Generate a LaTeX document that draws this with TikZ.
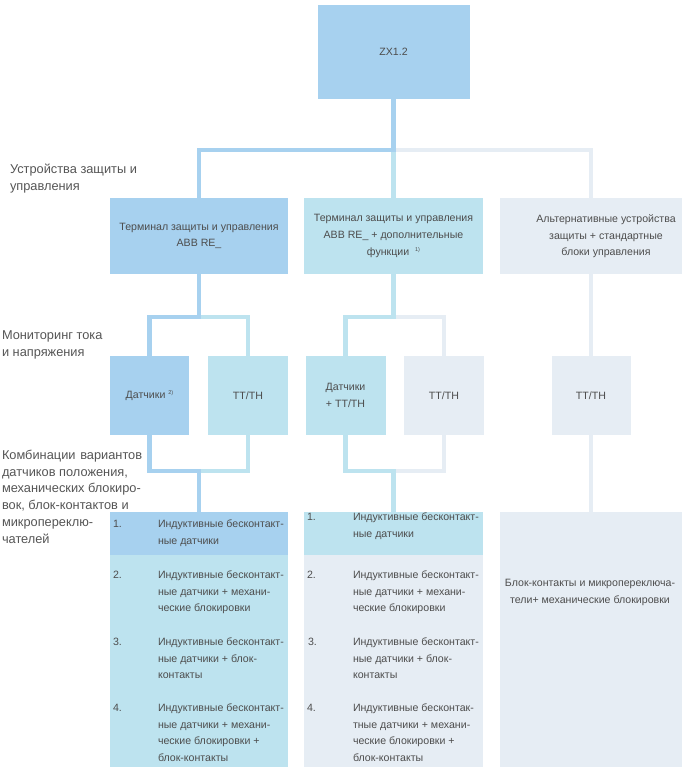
\documentclass[tikz,border=0pt]{standalone}
\usepackage{fontspec}
\setmainfont{Liberation Sans}
\definecolor{cblue}{HTML}{A7D1EF}
\definecolor{ccyan}{HTML}{BDE3EF}
\definecolor{cgrey}{HTML}{E6EDF4}
\definecolor{ctext}{HTML}{4D4D4D}
\definecolor{clabel}{HTML}{555555}
\newcommand\bxfont{\fontsize{10.6}{16.6}\selectfont}
\newcommand\lblfont{\fontsize{12.8}{16.8}\selectfont}
\newcommand\supnote[1]{\raisebox{3.5pt}{\fontsize{5.5}{6}\selectfont #1}}
\tikzset{
  bx/.style={rectangle, inner sep=0pt, outer sep=0pt, text=ctext, font=\bxfont, align=center},
  conn/.style={line width=4.8pt},
  itm/.style={anchor=north west, inner sep=0pt, outer sep=0pt, text=ctext, font=\bxfont, align=left},
  lbl/.style={anchor=north west, inner sep=0pt, outer sep=0pt, text=clabel, font=\lblfont, align=left}
}
\begin{document}
\begin{tikzpicture}[x=1pt,y=-1pt]
\useasboundingbox (0,0) rectangle (682,770);
% top
\node[bx, fill=cblue, minimum width=152pt, minimum height=94pt] (zx) at (393.5,52) {ZX1.2};
% row 2
\node[bx, fill=cblue, minimum width=178pt, minimum height=76pt] (t1) at (199,236)
  {Терминал защиты и управления\\ABB RE\_};
\node[bx, fill=ccyan, minimum width=179pt, minimum height=76pt] (t2) at (393.5,236)
  {Терминал защиты и управления\\ABB RE\_ + дополнительные\\функции\ \ \supnote{1)}};
\node[rectangle, inner sep=0pt, outer sep=0pt, text=ctext, font=\bxfont, fill=cgrey, minimum width=182pt, minimum height=76pt] (t3) at (591,236)
  {\hspace*{30pt}\begin{tabular}{@{}c@{}}Альтернативные устройства\\защиты + стандартные\\блоки управления\end{tabular}};
% row 3
\node[bx, fill=cblue, minimum width=79pt, minimum height=79pt] (m1) at (149.5,395.5) {Датчики \supnote{2)}};
\node[bx, fill=ccyan, minimum width=80pt, minimum height=79pt] (m2) at (248,395.5) {ТТ/ТН};
\node[bx, fill=ccyan, minimum width=80pt, minimum height=79pt] (m3) at (345.5,395.5) {Датчики\\+ ТТ/ТН};
\node[bx, fill=cgrey, minimum width=80pt, minimum height=79pt] (m4) at (444,395.5) {ТТ/ТН};
\node[bx, fill=cgrey, minimum width=79pt, minimum height=79pt] (m5) at (591,395.5) {ТТ/ТН};
% lists
\node[bx, fill=ccyan, minimum width=178pt, minimum height=255pt] (l1) at (199,639.5) {};
\node[bx, fill=cblue, minimum width=178pt, minimum height=43pt] (l1a) at (199,533.5) {};
\node[bx, fill=cgrey, minimum width=179pt, minimum height=255pt] (l2) at (393.5,639.5) {};
\node[bx, fill=ccyan, minimum width=179pt, minimum height=43pt] (l2a) at (393.5,533) {};
\node[bx, fill=cgrey, minimum width=182pt, minimum height=255pt] (l3) at (591,639.5) {};
\node[bx] (l3t) at (590,592.5) {Блок-контакты и микропереключа-\\тели+ механические блокировки};
% list items left
\node[itm] (a1n) at (113,520) {1.};
\node[itm] (a1) at (158,520) {Индуктивные бесконтакт-\\ные датчики};
\node[itm] (a2n) at (113,571) {2.};
\node[itm] (a2) at (158,571) {Индуктивные бесконтакт-\\ные датчики + механи-\\ческие блокировки};
\node[itm] (a3n) at (113,638) {3.};
\node[itm] (a3) at (158,638) {Индуктивные бесконтакт-\\ные датчики + блок-\\контакты};
\node[itm] (a4n) at (113,704) {4.};
\node[itm] (a4) at (158,704) {Индуктивные бесконтакт-\\ные датчики + механи-\\ческие блокировки +\\блок-контакты};
% list items middle
\node[itm] (b1n) at (307,513) {1.};
\node[itm] (b1) at (353,513) {Индуктивные бесконтакт-\\ные датчики};
\node[itm] (b2n) at (307,571) {2.};
\node[itm] (b2) at (353,571) {Индуктивные бесконтакт-\\ные датчики + механи-\\ческие блокировки};
\node[itm] (b3n) at (308,638) {3.};
\node[itm] (b3) at (353,638) {Индуктивные бесконтакт-\\ные датчики + блок-\\контакты};
\node[itm] (b4n) at (307,704) {4.};
\node[itm] (b4) at (353,704) {Индуктивные бесконтак-\\тные датчики + механи-\\ческие блокировки +\\блок-контакты};
% left labels
\node[lbl] (lab1) at (10,164) {Устройства защиты и\\управления};
\node[lbl] (lab2) at (2,331) {Мониторинг тока\\и напряжения};
\node[lbl] (lab3) at (2,450) {\makebox[131pt][s]{Комбинации \ вариантов}\\датчиков положения,\\механических блокиро-\\вок, блок-контактов и\\микропереклю-\\чателей};
% connectors top
\coordinate (j0) at (393.5,150);
\draw[conn,cgrey] (j0) -| (t3.north);
\draw[conn,ccyan] (j0) -- (t2.north);
\draw[conn,cblue] (zx.south) -- (j0) -| (t1.north);
% row2 -> row3
\coordinate (j1) at (199,317);
\draw[conn,ccyan] (j1) -| (m2.north);
\draw[conn,cblue] (t1.south) -- (j1) -| (m1.north);
\coordinate (j2) at (393.5,317);
\draw[conn,cgrey] (j2) -| (m4.north);
\draw[conn,ccyan] (t2.south) -- (j2) -| (m3.north);
\draw[conn,cgrey] (t3.south) -- (m5.north);
% row3 -> lists
\coordinate (j3) at (199,471);
\draw[conn,ccyan] (m2.south) |- (j3);
\draw[conn,cblue] (m1.south) |- (j3) -- (l1.north);
\coordinate (j4) at (393.5,471);
\draw[conn,cgrey] (m4.south) |- (j4);
\draw[conn,ccyan] (m3.south) |- (j4) -- (l2.north);
\draw[conn,cgrey] (m5.south) -- (l3.north);
\end{tikzpicture}
\end{document}
